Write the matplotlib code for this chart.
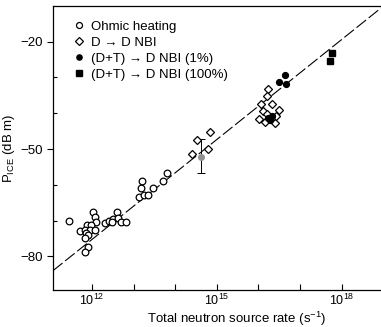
import numpy as np
import matplotlib
matplotlib.use('Agg')
import matplotlib.pyplot as plt
from matplotlib.ticker import FixedLocator

plt.rcParams['font.family'] = ['Liberation Sans', 'DejaVu Sans']
plt.rcParams['mathtext.fontset'] = 'custom'
plt.rcParams['mathtext.rm'] = 'Liberation Sans'

# log10 of neutron rate, P_ICE in dB m
ohmic_logx = [11.45, 12.03, 12.06, 12.09, 11.87, 11.98, 11.71, 11.83, 11.95, 12.07,
              11.85, 11.91, 11.83, 11.91, 11.83, 12.30, 12.41, 12.51, 12.59, 12.63,
              12.70, 12.81, 12.47, 13.21, 13.18, 13.14, 13.25, 13.35, 13.47, 13.71, 13.80]
ohmic_db = [-70.2, -67.6, -69.1, -70.4, -71.1, -71.1, -72.8, -72.7, -72.7, -72.7,
            -73.6, -74.1, -74.8, -77.5, -78.7, -70.6, -70.2, -69.6, -67.6, -69.2,
            -70.4, -70.4, -70.4, -58.8, -60.9, -63.3, -62.8, -62.8, -60.9, -59.0, -56.7]

dd_logx = [14.41, 14.52, 14.84, 14.78, 16.24, 16.22, 16.06, 16.33, 16.50, 16.10,
           16.20, 16.01, 16.16, 16.40, 16.42]
dd_db = [-51.4, -47.4, -45.2, -50.0, -33.1, -35.2, -37.3, -37.5, -39.1, -39.4,
         -40.3, -41.7, -42.4, -42.6, -40.8]

dt1_logx = [16.64, 16.50, 16.66, 16.24, 16.32, 16.28]
dt1_db = [-29.2, -31.3, -31.7, -41.2, -40.8, -41.9]

dt100_logx = [17.78, 17.72]
dt100_db = [-23.3, -25.3]

err_logx = 14.62
err_db = -52.1
err_lo = 4.6
err_hi = 4.9

fit_logx = [11.06, 18.95]
fit_db = [-84.0, -10.6]

fig = plt.figure(figsize=(3.81, 3.27), dpi=100)
ax = fig.add_axes([0.139, 0.112, 0.861, 0.870])

p = lambda v: 10.0 ** np.array(v)

ax.plot(p(fit_logx), fit_db, color='black', lw=0.8, dashes=(11, 3))
ax.errorbar([10 ** err_logx], [err_db], yerr=[[err_lo], [err_hi]], fmt='o', color='#909090',
            ms=4, ecolor='black', elinewidth=0.7, capsize=3, capthick=0.7)
ax.plot(p(ohmic_logx), ohmic_db, 'o', mfc='white', mec='black', ms=4.8, mew=0.9,
        ls='none', label='Ohmic heating')
ax.plot(p(dd_logx), dd_db, 'D', mfc='white', mec='black', ms=4.2, mew=0.9,
        ls='none', label='D \u2192 D NBI')
ax.plot(p(dt1_logx), dt1_db, 'o', color='black', ms=4.2, ls='none',
        label='(D+T) \u2192 D NBI (1%)')
ax.plot(p(dt100_logx), dt100_db, 's', color='black', ms=4.8, ls='none',
        label='(D+T) \u2192 D NBI (100%)')

ax.set_xscale('log')
ax.set_xlim(10 ** 11.06, 10 ** 18.95)
ax.set_ylim(-89.5, -10.0)

ax.set_xticks([1e12, 1e13, 1e14, 1e15, 1e16, 1e17, 1e18])
ax.set_xticklabels(['10$^{12}$', '', '', '10$^{15}$', '', '', '10$^{18}$'])
ax.xaxis.set_minor_locator(FixedLocator([]))
ax.set_yticks([-80, -50, -20])
ax.set_yticklabels(['\u221280', '\u221250', '\u221220'])
ax.set_yticks([-70, -60, -40, -30], minor=True)

ax.tick_params(axis='x', direction='in', length=4, width=0.8, labelsize=9, pad=2)
ax.tick_params(axis='y', which='major', direction='out', length=4, width=0.8, labelsize=9.5)
ax.tick_params(axis='y', which='minor', direction='in', length=3, width=0.8)

ax.spines['right'].set_visible(False)
for s in ['left', 'bottom', 'top']:
    ax.spines[s].set_linewidth(0.9)

ax.set_xlabel('Total neutron source rate (s$^{-1}$)', fontsize=9.5)
ax.xaxis.set_label_coords(0.56, -0.068)
ax.set_ylabel('P$_{\\rm ICE}$ (dB m)', fontsize=9.5, labelpad=2)

ax.legend(loc='upper left', bbox_to_anchor=(0.035, 0.98), frameon=False, fontsize=9.5,
          handlelength=0.8, handletextpad=0.5, labelspacing=0.28, borderaxespad=0.3,
          markerscale=0.9)

fig.savefig('out.png', dpi=100)
